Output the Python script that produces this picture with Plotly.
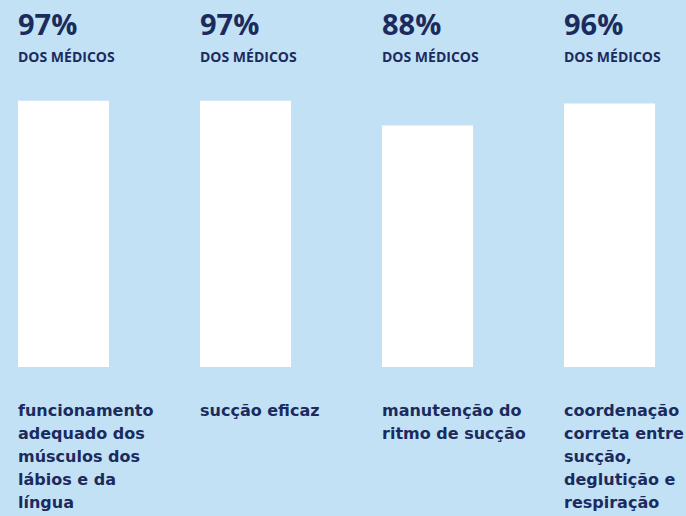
import plotly.graph_objects as go

categories = [
    "funcionamento<br>adequado dos<br>músculos dos<br>lábios e da<br>língua",
    "sucção eficaz",
    "manutenção do<br>ritmo de sucção",
    "coordenação<br>correta entre<br>sucção,<br>deglutição e<br>respiração",
]
values = [97, 97, 88, 96]
sublabel = "DOS MÉDICOS"

BG = "#C3E1F5"
NAVY = "#1B2B5E"
FONT = "Open Sans"
LABEL_FONT = "DejaVu Sans"
W, H = 686, 516
BAR_W = 0.5
LINE_H = 23

xs = list(range(len(values)))
fig = go.Figure(go.Bar(x=xs, y=values, width=BAR_W, marker=dict(color="white", line=dict(width=0)),
                       hoverinfo="skip"))

def py(px):
    return 1 - px / H

for i, (v, c) in enumerate(zip(values, categories)):
    left = i - BAR_W / 2
    fig.add_annotation(x=left, y=py(2), xref="x", yref="paper", xanchor="left", yanchor="top",
                       text=f"<b>{v}%</b>", showarrow=False, align="left", xshift=-2,
                       font=dict(family=FONT, size=29, color=NAVY))
    fig.add_annotation(x=left, y=py(45), xref="x", yref="paper", xanchor="left", yanchor="top",
                       text=f"<b>{sublabel}</b>", showarrow=False, align="left", xshift=-2,
                       font=dict(family=FONT, size=14, color=NAVY))
    for k, line in enumerate(c.split("<br>")):
        fig.add_annotation(x=left, y=py(399 + k * LINE_H), xref="x", yref="paper",
                           xanchor="left", yanchor="top",
                           text=f"<b>{line}</b>", showarrow=False, align="left", xshift=-2,
                           font=dict(family=LABEL_FONT, size=16, color=NAVY))

fig.update_layout(
    width=W, height=H,
    margin=dict(l=0, r=0, t=0, b=0),
    paper_bgcolor=BG, plot_bgcolor=BG,
    showlegend=False,
    xaxis=dict(range=[-0.349, 3.42], visible=False, fixedrange=True),
    yaxis=dict(range=[-54.3, 133.7], visible=False, fixedrange=True),
)
fig.write_html("out.html", config={"displayModeBar": False},
               post_script="document.body.style.margin='0';document.body.style.overflow='hidden';")
